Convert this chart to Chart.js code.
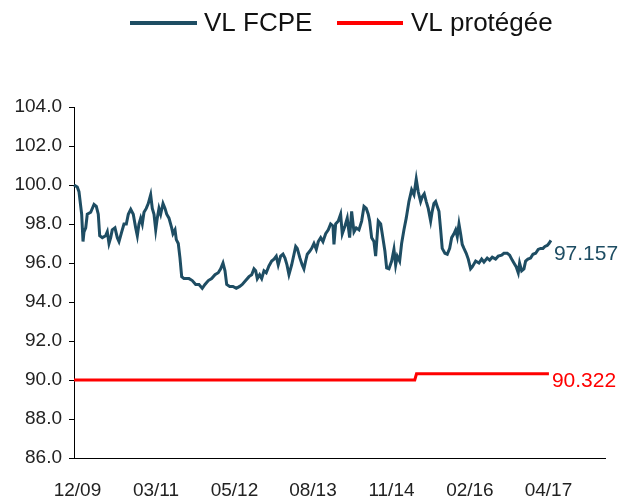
<!DOCTYPE html>
<html>
<head>
<meta charset="utf-8">
<script src="https://cdn.jsdelivr.net/npm/chart.js@4/dist/chart.umd.min.js"></script>
<style>
  html, body { margin: 0; padding: 0; background: #fff; }
  #wrap { width: 621px; height: 499px; }
</style>
</head>
<body>
<div id="wrap"><canvas id="c" width="621" height="499"></canvas></div>
<script>
// ---- data ----
const seriesNames = ['VL FCPE', 'VL protégée'];
const tickLabels = ['12/09', '03/11', '05/12', '08/13', '11/14', '02/16', '04/17'];
const tickPos = [0.49, 11.55, 22.6, 33.66, 44.72, 55.77, 66.83];

const fcpeT = [0,0.46,0.70,1.08,1.27,1.41,1.65,1.87,2.35,2.82,
3.14,3.42,3.62,3.99,4.46,4.69,4.93,5.17,5.39,5.77,
6.10,6.34,6.72,7.04,7.37,7.65,7.99,8.35,8.69,8.92,
9.15,9.39,9.62,9.86,10.18,10.46,10.80,11.03,11.27,11.51,
11.73,11.97,12.21,12.54,12.82,13.06,13.38,13.76,13.94,14.23,
14.41,14.69,14.93,15.17,15.49,15.96,16.2,16.66,17.14,17.61,
18.07,18.45,18.92,19.39,19.86,20.32,20.66,20.99,21.27,21.51,
21.93,22.39,22.86,23.34,23.70,24.18,24.65,25.03,25.35,25.59,
25.82,26.15,26.44,26.76,27.08,27.46,27.85,28.17,28.49,28.77,
29.11,29.44,29.72,30.0,30.28,30.66,30.99,31.23,31.45,31.83,
32.15,32.39,32.63,32.86,33.20,33.48,33.80,34.13,34.41,34.75,
35.07,35.45,35.82,36.15,36.48,36.62,36.86,37.23,37.56,37.79,
38.17,38.49,38.83,39.11,39.44,39.76,40.14,40.52,40.85,41.17,
41.45,41.65,41.93,42.25,42.49,42.86,43.20,43.42,43.80,44.04,
44.37,44.75,45.07,45.31,45.54,45.87,46.15,46.48,46.80,47.18,
47.56,47.89,48.21,48.49,48.83,49.06,49.34,49.62,49.90,50.24,
50.46,50.70,50.94,51.17,51.41,51.65,51.87,52.25,52.58,52.92,
53.20,53.52,53.76,53.99,54.23,54.46,54.69,54.93,55.25,55.54,
55.87,56.10,56.58,57.04,57.42,57.75,58.21,58.55,58.92,59.39,
59.76,60.24,60.56,61.03,61.37,61.73,61.97,62.30,62.58,62.77,
63.06,63.38,63.62,63.94,64.32,64.65,65.03,65.39,65.73,66.06,
66.34,66.66,66.90,67.18];

const fcpeV = [100.0,99.9,99.66,98.5,97.1,97.6,97.8,98.5,98.6,99.0,
98.9,98.5,97.4,97.3,97.4,97.6,97.0,97.3,97.7,97.8,
97.3,97.1,97.6,98.0,98.0,98.5,98.75,98.5,97.8,97.4,
98.0,98.3,98.0,98.6,98.8,99.05,99.5,98.8,98.5,97.7,
98.3,98.8,98.5,99.05,98.8,98.5,98.3,97.8,97.5,97.7,
97.2,97.0,96.25,95.3,95.2,95.2,95.2,95.1,94.9,94.9,
94.7,94.9,95.1,95.2,95.4,95.5,95.7,96.0,95.6,94.9,
94.8,94.8,94.7,94.8,94.9,95.1,95.3,95.4,95.7,95.6,
95.2,95.4,95.2,95.6,95.5,95.85,96.1,96.2,96.35,95.9,
96.35,96.45,96.25,95.9,95.4,95.9,96.45,96.85,96.75,96.25,
95.9,95.7,96.1,96.45,96.6,96.75,97.0,96.7,97.1,97.3,
97.1,97.5,97.7,98.0,97.9,96.95,98.0,98.15,98.5,97.5,
97.9,98.3,97.3,98.65,97.6,97.8,97.7,98.15,98.9,98.8,
98.5,98.15,97.3,97.1,96.35,98.15,98.0,97.5,96.6,95.75,
95.7,96.1,96.7,95.9,96.35,96.1,97.0,97.7,98.3,99.15,
99.75,99.5,100.3,99.65,99.15,99.4,99.55,99.15,98.8,98.15,
98.65,99.05,99.15,98.9,98.65,97.7,96.75,96.5,96.45,96.75,
97.3,97.5,97.7,97.35,98.0,97.5,96.95,96.75,96.5,96.2,
95.7,95.8,96.1,96.0,96.2,96.05,96.25,96.15,96.3,96.2,
96.35,96.4,96.5,96.5,96.4,96.15,96.0,95.8,95.5,96.0,
95.6,95.7,96.1,96.2,96.25,96.45,96.5,96.7,96.75,96.75,
96.85,96.9,97.0,97.157];

const protT = [0, 48.0, 48.25, 66.9];
const protV = [90.0, 90.0, 90.322, 90.322];

const endLabels = ['97.157', '90.322'];
const colors = ['#1E4D63', '#FF0000'];

// ---- build ----
const toPts = (ts, vs) => ts.map((t, i) => ({ x: t, y: vs[i] }));

const FONT = '"Liberation Sans", Arial, Helvetica, sans-serif';

const customLegend = {
  id: 'customLegend',
  afterDraw(chart) {
    const ctx = chart.ctx;
    const y = 23;
    const items = [
      { x0: 130, x1: 197, tx: 204 },
      { x0: 337, x1: 403, tx: 411 }
    ];
    ctx.save();
    ctx.font = '26px ' + FONT;
    ctx.textBaseline = 'middle';
    ctx.textAlign = 'left';
    items.forEach((it, i) => {
      ctx.strokeStyle = colors[i];
      ctx.lineWidth = 4;
      ctx.beginPath();
      ctx.moveTo(it.x0, y);
      ctx.lineTo(it.x1, y);
      ctx.stroke();
      ctx.fillStyle = '#111';
      ctx.fillText(seriesNames[i], it.tx, y + 1);
    });
    ctx.restore();
  }
};

const endLabelPlugin = {
  id: 'endLabels',
  afterDatasetsDraw(chart) {
    const ctx = chart.ctx;
    const offs = [14, 7];
    ctx.save();
    ctx.font = '21px ' + FONT;
    ctx.textBaseline = 'middle';
    ctx.textAlign = 'left';
    chart.data.datasets.forEach((ds, i) => {
      const meta = chart.getDatasetMeta(i);
      const last = meta.data[meta.data.length - 1];
      ctx.fillStyle = colors[i];
      ctx.fillText(endLabels[i], last.x + 3, last.y + offs[i]);
    });
    ctx.restore();
  }
};

new Chart(document.getElementById('c'), {
  type: 'line',
  data: {
    datasets: [
      {
        label: seriesNames[0],
        data: toPts(fcpeT, fcpeV),
        borderColor: colors[0],
        backgroundColor: colors[0],
        borderWidth: 3,
        pointRadius: 0,
        tension: 0,
        clip: false
      },
      {
        label: seriesNames[1],
        data: toPts(protT, protV),
        borderColor: colors[1],
        backgroundColor: colors[1],
        borderWidth: 3,
        pointRadius: 0,
        tension: 0,
        clip: false
      }
    ]
  },
  options: {
    responsive: false,
    animation: false,
    layout: { padding: { top: 107, right: 16, left: 0, bottom: 0 } },
    plugins: {
      legend: { display: false },
      tooltip: { enabled: false }
    },
    scales: {
      x: {
        type: 'linear',
        min: 0,
        max: 74.8,
        afterBuildTicks(scale) {
          scale.ticks = tickPos.map(v => ({ value: v }));
        },
        afterFit(scale) { scale.height = 41; },
        ticks: {
          autoSkip: false,
          maxRotation: 0,
          padding: 21,
          color: '#222',
          font: { family: FONT, size: 19 },
          callback(v) {
            const i = tickPos.indexOf(v);
            return i >= 0 ? tickLabels[i] : '';
          }
        },
        grid: { display: false, drawTicks: false },
        border: { display: true, color: '#000', width: 1 }
      },
      y: {
        min: 86,
        max: 104,
        afterFit(scale) { scale.width = 74; },
        ticks: {
          stepSize: 2,
          padding: 7,
          color: '#222',
          font: { family: FONT, size: 19 },
          callback(v) { return Number(v).toFixed(1); }
        },
        grid: { drawOnChartArea: false, drawTicks: true, tickLength: 5, color: '#000' },
        border: { display: true, color: '#000', width: 1 }
      }
    }
  },
  plugins: [customLegend, endLabelPlugin]
});
</script>
</body>
</html>
